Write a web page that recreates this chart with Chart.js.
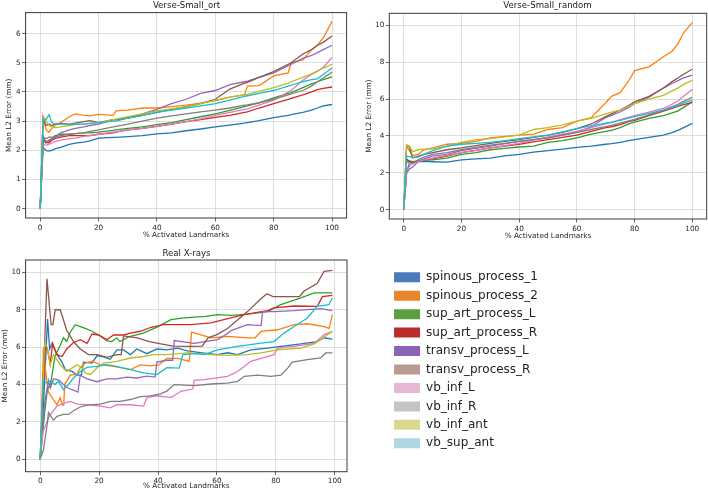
<!DOCTYPE html>
<html>
<head>
<meta charset="utf-8">
<script src="https://cdn.jsdelivr.net/npm/chart.js@4.4.0/dist/chart.umd.min.js"></script>
<style>
  body { margin: 0; background: #fff; }
  #wrap { position: relative; width: 708px; height: 492px; font-family: "DejaVu Sans", sans-serif; }
  canvas { position: absolute; }
  .ttl { position: absolute; font-size: 8.6px; color: #222; text-align: center; line-height: 11px; height: 11px; white-space: nowrap; }
</style>
</head>
<body>
<div id="wrap">
  <canvas id="c1" width="354" height="245" style="left:0;top:0"></canvas>
  <canvas id="c2" width="348" height="245" style="left:360px;top:0"></canvas>
  <canvas id="c3" width="354" height="247" style="left:0;top:245px"></canvas>
  <canvas id="c4" width="328" height="200" style="left:380px;top:260px"></canvas>
  <div class="ttl" style="left:26px;width:321px;top:0">Verse-Small_ort</div>
  <div class="ttl" style="left:389px;width:317px;top:0">Verse-Small_random</div>
  <div class="ttl" style="left:26px;width:321px;top:248px">Real X-rays</div>
</div>
<script>
const names = ['spinous_process_1', 'spinous_process_2', 'sup_art_process_L', 'sup_art_process_R',
  'transv_process_L', 'transv_process_R', 'vb_inf_L', 'vb_inf_R', 'vb_inf_ant', 'vb_sup_ant'];
const lineColors = ['#1f77b4', '#ff7f0e', '#2ca02c', '#d62728', '#9467bd',
  '#8c564b', '#e377c2', '#7f7f7f', '#bcbd22', '#17becf'];
const legendColors = ['#4a7ab8', '#e8862b', '#5aa03c', '#bb2b2e', '#8a63b8',
  '#bb9a93', '#e6b8d3', '#c4c4c4', '#d9d98e', '#add8e3'];

const xTicks = [0, 20, 40, 60, 80, 100];
const ortYTicks = [0, 1, 2, 3, 4, 5, 6];
const randYTicks = [0, 2, 4, 6, 8, 10];
const xrayYTicks = [0, 2, 4, 6, 8, 10];

// Verse-Small_ort
const ortX = [0,1,2,3,4,5,7,10,12,15,17,20,25,26,30,35,40,45,50,55,60,65,70,71,75,80,85,86,90,93,95,97,100];
const ortSp1 = [0,2.1,2.0,1.97,2.0,2.05,2.1,2.2,2.25,2.28,2.32,2.42,2.44,2.44,2.47,2.5,2.56,2.6,2.67,2.73,2.8,2.86,2.93,2.95,3.02,3.12,3.2,3.22,3.3,3.38,3.45,3.52,3.57];
const ortSp2 = [0,3.15,2.7,2.62,2.75,2.85,2.95,3.15,3.25,3.2,3.18,3.23,3.2,3.35,3.38,3.45,3.45,3.5,3.55,3.62,3.7,3.82,3.9,4.2,4.22,4.55,4.65,5.0,5.1,5.45,5.6,5.85,6.42];
const ortSaL = [0,2.5,2.25,2.3,2.4,2.5,2.55,2.55,2.57,2.6,2.6,2.62,2.68,2.7,2.75,2.8,2.88,2.95,3.05,3.15,3.25,3.37,3.5,3.52,3.63,3.8,3.95,3.98,4.15,4.28,4.35,4.42,4.52];
const ortSaR = [0,2.3,2.28,2.25,2.35,2.4,2.45,2.5,2.5,2.5,2.5,2.55,2.6,2.62,2.7,2.75,2.82,2.9,2.98,3.05,3.13,3.2,3.3,3.32,3.45,3.6,3.75,3.78,3.9,4.0,4.08,4.12,4.17];
const ortTpL = [0,2.4,2.3,2.35,2.4,2.45,2.6,2.7,2.75,2.8,2.85,2.9,3.05,3.05,3.1,3.25,3.4,3.6,3.75,3.95,4.05,4.25,4.35,4.37,4.5,4.65,4.9,4.95,5.15,5.25,5.35,5.45,5.6];
const ortTpR = [0,3.1,2.85,2.9,2.85,2.9,2.92,2.9,2.93,2.98,3.02,2.95,3.05,3.05,3.1,3.2,3.3,3.4,3.5,3.6,3.75,4.1,4.3,4.33,4.5,4.7,4.95,5.0,5.3,5.45,5.6,5.7,5.92];
const ortVbL = [0,2.2,2.18,2.2,2.25,2.3,2.35,2.4,2.42,2.48,2.5,2.55,2.62,2.63,2.7,2.75,2.82,2.9,2.98,3.08,3.2,3.3,3.4,3.42,3.55,3.72,4.0,4.05,4.4,4.6,4.7,4.85,5.18];
const ortVbR = [0,2.45,2.4,2.45,2.45,2.45,2.5,2.55,2.57,2.6,2.65,2.7,2.8,2.82,2.9,3.0,3.1,3.18,3.25,3.32,3.38,3.45,3.55,3.56,3.63,3.75,3.9,3.93,4.05,4.2,4.35,4.48,4.68];
const ortVbAnt = [0,3.15,3.0,2.85,2.8,2.78,2.8,2.85,2.88,2.9,2.92,2.95,3.05,3.07,3.15,3.25,3.35,3.42,3.5,3.6,3.72,3.82,3.9,3.92,4.02,4.15,4.3,4.35,4.5,4.62,4.72,4.82,4.95];
const ortVbSup = [0,3.1,3.05,3.22,2.95,2.9,2.9,2.9,2.9,2.9,2.92,2.95,3.0,3.0,3.1,3.2,3.3,3.38,3.45,3.52,3.6,3.72,3.85,3.87,3.95,4.05,4.2,4.23,4.35,4.42,4.45,4.6,4.82];

// Verse-Small_random
const randX = [0,1,2,3,5,7,10,15,20,25,30,35,40,45,50,55,60,65,70,72,75,78,80,85,90,93,95,97,100];
const randSp1 = [0,2.0,2.55,2.6,2.6,2.62,2.6,2.58,2.7,2.75,2.8,2.92,3.0,3.12,3.2,3.28,3.38,3.45,3.55,3.58,3.65,3.75,3.8,3.92,4.05,4.18,4.3,4.45,4.68];
const randSp2 = [0,3.45,3.2,2.95,3.0,3.25,3.35,3.55,3.6,3.7,3.9,3.98,4.05,4.1,4.35,4.45,4.8,5.0,5.8,6.15,6.35,7.0,7.55,7.75,8.3,8.6,9.0,9.6,10.15];
const randSaL = [0,2.7,2.65,2.6,2.65,2.68,2.7,2.8,3.0,3.1,3.25,3.32,3.4,3.45,3.65,3.75,3.9,4.1,4.25,4.3,4.45,4.65,4.75,4.95,5.1,5.25,5.35,5.55,5.85];
const randSaR = [0,2.75,2.6,2.55,2.65,2.7,2.75,2.9,3.1,3.22,3.35,3.45,3.55,3.68,3.8,3.92,4.05,4.25,4.45,4.5,4.62,4.78,4.85,5.1,5.35,5.5,5.6,5.7,5.82];
const randTpL = [0,2.0,2.2,2.3,2.6,2.75,2.9,3.0,3.2,3.32,3.45,3.58,3.7,3.8,3.9,4.05,4.2,4.5,5.0,5.12,5.3,5.55,5.75,6.1,6.6,6.85,7.0,7.15,7.3];
const randTpR = [0,3.5,3.4,2.8,2.9,3.0,3.1,3.25,3.35,3.48,3.6,3.7,3.8,3.92,4.05,4.2,4.4,4.65,5.05,5.2,5.4,5.65,5.85,6.15,6.6,6.95,7.15,7.35,7.62];
const randVbL = [0,2.1,2.35,2.5,2.6,2.7,2.8,2.95,3.1,3.22,3.35,3.48,3.6,3.78,3.95,4.1,4.25,4.45,4.65,4.72,4.88,5.02,5.1,5.3,5.5,5.72,5.9,6.15,6.52];
const randVbR = [0,2.6,2.55,2.5,2.7,2.85,3.0,3.1,3.25,3.38,3.5,3.6,3.7,3.8,3.9,4.05,4.2,4.35,4.5,4.58,4.7,4.82,4.9,5.15,5.4,5.6,5.72,5.88,6.1];
const randVbAnt = [0,3.5,3.45,3.15,3.25,3.28,3.3,3.45,3.65,3.8,3.85,3.95,4.05,4.35,4.45,4.6,4.8,4.95,5.2,5.3,5.4,5.6,5.75,6.0,6.2,6.45,6.6,6.8,7.02];
const randVbSup = [0,2.9,2.88,2.85,2.85,3.0,3.2,3.45,3.55,3.6,3.65,3.75,3.85,3.95,4.05,4.22,4.4,4.55,4.7,4.75,4.85,4.97,5.05,5.22,5.4,5.55,5.65,5.8,5.95];

// Real X-rays: [x, y] pairs
const xraySp1 = [[0,0],[1,2.5],[2.5,7.5],[3.2,5.9],[4,6.2],[5.7,5.6],[7.4,5.2],[8.5,4.8],[10.8,4.7],[12.5,4.5],[14,4.5],[14.7,5.2],[17.6,5.15],[19.3,5.55],[21,5.5],[23.8,5.35],[26,5.85],[28.3,5.85],[30.6,5.6],[32.8,5.9],[36.2,5.65],[39.6,5.9],[43,5.85],[46.7,5.95],[50,5.8],[55.7,5.68],[60.2,5.6],[63.6,5.7],[67,5.6],[71.5,5.86],[77.2,5.95],[81.7,6.04],[88.5,6.17],[94,6.3],[96.4,6.5],[99.2,6.43]];
const xraySp2 = [[0,0],[1.1,5.95],[2,4.5],[2.8,3.6],[4,3.3],[5.7,2.92],[6.8,3.3],[7.5,2.9],[8,2.9],[8.3,4.0],[10.2,4.5],[12.5,4.55],[13.6,4.9],[15.3,5.15],[17.6,5.25],[20.4,5.05],[23.8,5.0],[27.2,4.9],[30.6,4.8],[34,5.05],[37.4,5.0],[40.2,5.05],[43,5.4],[46.7,5.4],[50.6,5.24],[51.4,6.8],[58,6.5],[63.6,6.58],[70.4,6.5],[73,6.5],[75,6.84],[80.6,6.93],[86.2,7.2],[90.7,7.25],[96.4,7.1],[98.1,7.0],[99.2,7.74]];
const xraySaL = [[0,0],[1.5,2.5],[2.5,3.8],[3.5,4.0],[5,5.5],[6.8,6.1],[7.9,6.5],[9,6.3],[10.2,6.8],[11.9,7.2],[13.6,7.1],[15.3,7.0],[17.6,6.85],[20.4,6.6],[22.6,6.35],[24.3,6.3],[26,6.5],[27,6.3],[30,6.55],[35,6.75],[40,7.1],[44.4,7.47],[48,7.55],[52.3,7.6],[56,7.65],[60.2,7.74],[65,7.7],[70.4,7.77],[77.2,7.9],[81.7,8.27],[88.5,8.63],[93,8.9],[99.2,8.9]];
const xraySaR = [[0,0],[1.7,6.0],[2.5,5.85],[3.4,5.1],[4.2,6.2],[5.7,5.6],[7.4,5.5],[9,5.9],[11.3,6.25],[13.6,6.4],[15.9,6.2],[17.6,6.7],[19.8,6.65],[22.6,6.4],[24.9,6.65],[28.3,6.65],[30.6,6.75],[34,6.85],[37.4,7.05],[41.9,7.2],[46,7.2],[51,7.2],[58,7.3],[63,7.5],[69.3,7.74],[77.2,7.95],[79.4,8.1],[86.2,8.2],[94.1,8.18],[95.8,8.7],[99.2,8.77]];
const xrayTpL = [[0,0],[1.5,3.0],[2.8,4.2],[3.4,3.8],[4.5,4.3],[6.2,4.25],[7.9,4.0],[9.6,3.8],[11.3,3.7],[12.8,3.6],[13.6,4.5],[15.9,4.3],[19.3,4.15],[22.6,4.3],[26,4.3],[29.4,4.4],[32.8,4.35],[36.2,4.45],[39,4.4],[39.6,5.2],[43,5.3],[45,5.3],[45.5,6.35],[52.3,6.2],[60.2,6.4],[63,6.67],[65,6.9],[70.4,7.2],[75,7.15],[75.5,7.9],[79.4,7.9],[86.2,7.95],[95.2,8.06],[99.2,7.95]];
const xrayTpR = [[0,0],[1,4],[2.3,9.65],[3.7,7.2],[4.3,7.2],[5.1,8.0],[6.8,8.0],[9,6.9],[11.3,6.3],[13.6,5.9],[16.4,5.6],[19.3,5.6],[22.6,5.45],[26,5.6],[27.5,5.6],[28.3,6.6],[33,6.5],[37,6.3],[41,6.17],[45,6.05],[51,6.04],[55,6.05],[57,6.5],[60,6.67],[63.6,7.0],[70.4,7.9],[75,8.6],[77,8.86],[79,8.7],[88,8.7],[89.6,9.0],[94,9.4],[96.4,10.05],[99.2,10.1]];
const xrayVbL = [[0,0],[1,1.5],[3.4,2.4],[5.7,2.85],[7.9,3.0],[10.2,3.1],[12.5,2.95],[15.9,2.92],[20.4,2.85],[23.8,2.75],[26,2.92],[30.6,2.92],[35.1,2.85],[36.2,3.3],[39.6,3.4],[44.4,3.3],[47.8,3.64],[51.8,3.76],[52.3,4.22],[55.7,4.26],[63.6,4.44],[67,4.7],[69.3,4.97],[71.5,5.24],[75,5.4],[79.4,5.6],[80.6,5.95],[86.2,6.04],[93,6.2],[96.4,6.67],[99.2,6.84]];
const xrayVbR = [[0,0],[1.1,0.5],[2.3,1.8],[2.8,2.5],[4.5,2.1],[5.7,2.3],[7.9,2.4],[9.6,2.4],[11.3,2.6],[13.6,2.8],[15.9,2.9],[20.4,2.95],[23.8,3.1],[27.2,3.1],[30.6,3.2],[34,3.35],[37.4,3.4],[40.8,3.5],[43,3.65],[45.5,4.0],[52.3,3.94],[58,4.03],[63.6,4.08],[67,4.17],[69.3,4.44],[73.8,4.5],[78.3,4.44],[81.7,4.5],[84,4.88],[85.6,5.2],[90.7,5.33],[95.2,5.42],[96.9,5.69],[99.2,5.69]];
const xrayVbAnt = [[0,0],[1.5,6.2],[2.3,6.04],[3.4,5.06],[4.5,5.6],[6.8,5.06],[9,4.7],[10.8,4.88],[12.5,5.06],[14.2,4.9],[15.3,4.62],[17,4.53],[19.3,4.9],[21.5,5.15],[26,5.24],[30.6,5.42],[35.1,5.5],[38.5,5.6],[43,5.6],[50,5.69],[58,5.6],[63.6,5.56],[70.4,5.6],[75,5.69],[80.6,5.86],[88.5,5.95],[93,6.17],[97.5,6.67],[99.2,6.84]];
const xrayVbSup = [[0,0],[1,4.2],[2.3,4.08],[3.4,4.2],[5,4.0],[6.2,4.17],[7.9,3.73],[9.6,4.0],[11.3,4.35],[13.6,4.7],[15.9,4.92],[19.3,4.97],[22.6,5.06],[26,4.97],[30.6,4.8],[35.1,4.62],[39.6,4.53],[43,4.9],[47.2,4.88],[48.4,5.6],[52.3,5.65],[55.7,5.6],[60.2,5.86],[67,6.04],[75,6.22],[79.4,6.3],[82.8,6.75],[86.2,7.1],[90.7,7.56],[94,8.18],[98,8.27],[99.2,8.63]];

const ortSeries = [ortSp1, ortSp2, ortSaL, ortSaR, ortTpL, ortTpR, ortVbL, ortVbR, ortVbAnt, ortVbSup];
const randSeries = [randSp1, randSp2, randSaL, randSaR, randTpL, randTpR, randVbL, randVbR, randVbAnt, randVbSup];
const xraySeries = [xraySp1, xraySp2, xraySaL, xraySaR, xrayTpL, xrayTpR, xrayVbL, xrayVbR, xrayVbAnt, xrayVbSup];

Chart.defaults.font.family = '"DejaVu Sans", sans-serif';

// draws the full axes box like matplotlib spines
const frame = {
    id: 'frame',
    afterDraw(chart) {
        const {ctx, chartArea: a} = chart;
        ctx.save();
        ctx.strokeStyle = '#3a3a3a';
        ctx.lineWidth = 1;
        ctx.strokeRect(a.left, a.top, a.right - a.left, a.bottom - a.top);
        ctx.restore();
    }
};

function panel(id, o) {
    const datasets = o.series.map((s, i) => ({
        label: names[i],
        data: s.map((p, k) => Array.isArray(p) ? {x: p[0], y: p[1]} : {x: o.xs[k], y: p}),
        borderColor: lineColors[i],
        borderWidth: 1.3,
        pointRadius: 0,
        tension: 0,
        fill: false,
        order: -i
    }));
    return new Chart(document.getElementById(id), {
        type: 'line',
        data: {datasets},
        options: {
            responsive: false,
            animation: false,
            layout: {padding: o.pad},
            plugins: {legend: {display: false}, tooltip: {enabled: false}},
            scales: {
                x: {
                    type: 'linear', min: o.xMin, max: o.xMax,
                    afterBuildTicks: s => { s.ticks = xTicks.map(v => ({value: v})); },
                    afterFit: s => { s.height = o.xH; },
                    ticks: {color: '#262626', font: {size: 7.3}, padding: 2, maxRotation: 0, autoSkip: false},
                    grid: {color: '#d6d6d6', lineWidth: 0.8, tickColor: '#444', tickLength: 3.5},
                    border: {display: false},
                    title: {display: true, text: '% Activated Landmarks', color: '#262626', font: {size: 7.3},
                        padding: {top: 0, bottom: o.xTitlePad}}
                },
                y: {
                    min: o.yMin, max: o.yMax,
                    afterBuildTicks: s => { s.ticks = o.yTicks.map(v => ({value: v})); },
                    afterFit: s => { s.width = o.yW; },
                    ticks: {color: '#262626', font: {size: 7.3}, padding: 1.4, autoSkip: false},
                    grid: {color: '#d6d6d6', lineWidth: 0.8, tickColor: '#444', tickLength: 3.5},
                    border: {display: false},
                    title: {display: true, text: 'Mean L2 Error (mm)', color: '#262626', font: {size: 7.3},
                        padding: {top: o.yTitlePad, bottom: 0}}
                }
            }
        },
        plugins: [frame]
    });
}

panel('c1', {series: ortSeries, xs: ortX, xMin: -5, xMax: 105, yMin: -0.32, yMax: 6.72, yTicks: ortYTicks,
    pad: {top: 12.6, right: 7.4, bottom: 0, left: 0}, xH: 27, yW: 25.6, xTitlePad: 5.1, yTitlePad: 4.6});
panel('c2', {series: randSeries, xs: randX, xMin: -5, xMax: 105, yMin: -0.51, yMax: 10.66, yTicks: randYTicks,
    pad: {top: 13.3, right: 1.3, bottom: 0, left: 0}, xH: 26, yW: 29.3, xTitlePad: 4.1, yTitlePad: 4.6});
panel('c3', {series: xraySeries, xMin: -4.96, xMax: 104.16, yMin: -0.66, yMax: 10.66, yTicks: xrayYTicks,
    pad: {top: 15, right: 7, bottom: 0, left: 0}, xH: 20.3, yW: 25.6, xTitlePad: 1.1, yTitlePad: 0.6});

// legend panel
new Chart(document.getElementById('c4'), {
    type: 'line',
    data: {
        datasets: names.map((n, i) => ({
            label: n, data: [], backgroundColor: legendColors[i], borderColor: legendColors[i], borderWidth: 0
        }))
    },
    options: {
        responsive: false,
        animation: false,
        layout: {padding: {left: 7.6, top: 4.8}},
        scales: {x: {display: false}, y: {display: false}},
        plugins: {
            tooltip: {enabled: false},
            legend: {
                position: 'left', align: 'start',
                labels: {boxWidth: 26, boxHeight: 10, padding: 6.45, color: '#222', font: {size: 12}}
            }
        }
    }
});
</script>
</body>
</html>
